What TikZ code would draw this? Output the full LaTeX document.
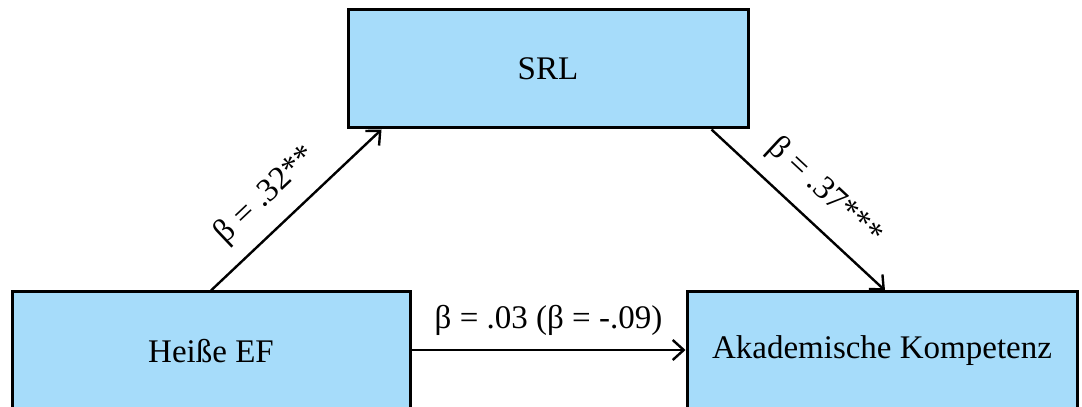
\documentclass[tikz,border=0pt]{standalone}
\usepackage{fontspec}
\setmainfont{Liberation Serif}
\usetikzlibrary{arrows.meta,calc}
\definecolor{boxblue}{RGB}{166,220,250}
\begin{document}
\begin{tikzpicture}[x=1pt,y=1pt,
  varbox/.style={draw=black, line width=3pt, fill=boxblue, inner sep=0pt,
    font=\fontsize{33}{39}\selectfont},
  path/.style={draw=black, line width=2.4pt,
    -{Straight Barb[length=11pt,width=20pt,line width=2.4pt]}},
  coef/.style={font=\fontsize{33}{39}\selectfont, inner sep=0pt}]
\useasboundingbox (0,0) rectangle (1082,407);
\clip (0,0) rectangle (1082,407);
\fill[white] (0,0) rectangle (1082,407);

% variables
\node[varbox, minimum width=400pt, minimum height=118pt] (srl) at (548,338) {SRL};
\node[varbox, minimum width=398pt, minimum height=118pt] (hef) at (211,56) {Heiße EF};
\node[varbox, minimum width=390pt, minimum height=118pt] (ak) at (882,56) {Akademische Kompetenz};

% paths with standardised coefficients
\draw[path] (hef.north) -- ($(srl.south west)+(35,0)$)
  node[coef, pos=0.45, sloped, above=15pt] {β = .32**};
\draw[path] ($(srl.south east)+(-38,0)$) -- ($(ak.north)+(3,0)$)
  node[coef, pos=0.53, sloped, above=15pt] {β = .37***};
\draw[path] ($(hef.east)+(0,1)$) -- ($(ak.west)+(0,1)$)
  node[coef, midway, above=13pt] {β = .03 (β = -.09)};
\end{tikzpicture}
\end{document}
